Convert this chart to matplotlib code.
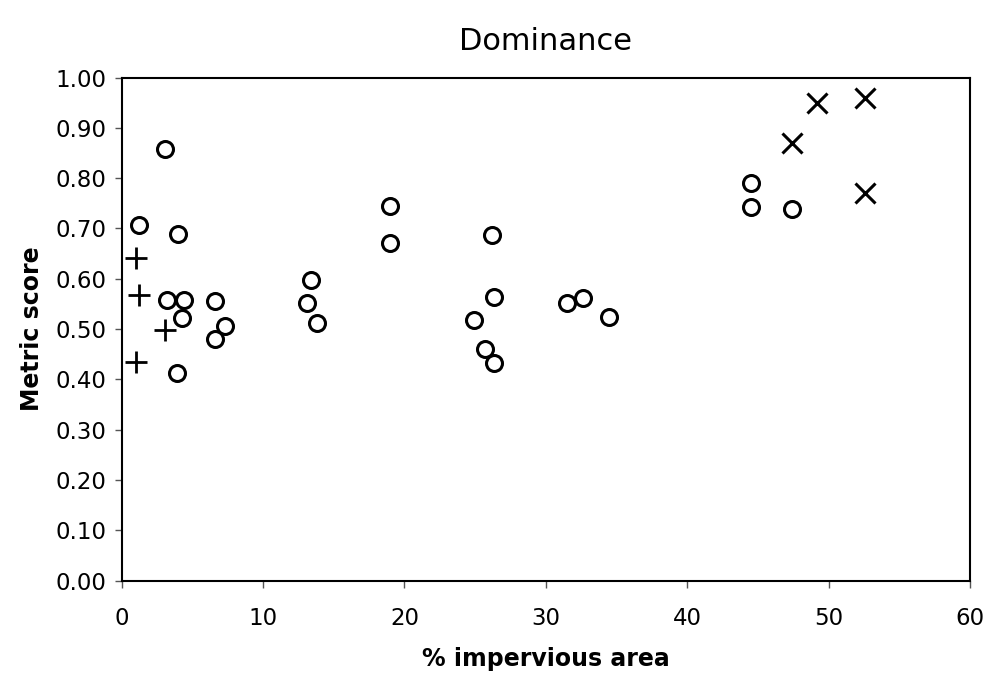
import numpy as np
import matplotlib
matplotlib.use("Agg")
import matplotlib.pyplot as plt
from matplotlib.ticker import FormatStrFormatter

circle_x = [3.1, 1.2, 4.0, 13.4, 3.2, 4.4, 6.6, 13.1, 4.3, 7.3, 13.8, 6.6, 3.9,
            19.0, 19.0, 26.2, 26.3, 24.9, 25.7, 26.3, 31.5, 32.6, 34.5,
            44.5, 44.5, 47.4]
circle_y = [0.858, 0.707, 0.689, 0.598, 0.557, 0.558, 0.555, 0.552, 0.522, 0.506, 0.512, 0.480, 0.412,
            0.745, 0.672, 0.686, 0.563, 0.517, 0.460, 0.433, 0.552, 0.562, 0.523,
            0.791, 0.742, 0.738]
plus_x = [1.0, 1.2, 3.1, 1.0]
plus_y = [0.642, 0.568, 0.499, 0.434]
cross_x = [49.2, 52.6, 47.4, 52.6]
cross_y = [0.949, 0.959, 0.869, 0.771]

xticks = [0, 10, 20, 30, 40, 50, 60]
yticks = [0.0, 0.1, 0.2, 0.3, 0.4, 0.5, 0.6, 0.7, 0.8, 0.9, 1.0]

plt.rcParams['font.family'] = ['DejaVu Sans']

fig = plt.figure(figsize=(9.94, 6.77), dpi=100)
ax = fig.add_axes([0.1224, 0.1425, 0.8535, 0.743])

ax.plot(circle_x, circle_y, linestyle='none', marker='o', markersize=11.5,
        markerfacecolor='white', markeredgecolor='black', markeredgewidth=2.2)
ax.plot(plus_x, plus_y, linestyle='none', marker='+', markersize=16,
        color='black', markeredgewidth=2)
ax.plot(cross_x, cross_y, linestyle='none', marker='x', markersize=14,
        color='black', markeredgewidth=2.2)

ax.set_xlim(0, 60)
ax.set_ylim(0, 1)
ax.set_xticks(xticks)
ax.set_yticks(yticks)
ax.yaxis.set_major_formatter(FormatStrFormatter('%.2f'))
ax.tick_params(direction='out', length=5, width=1, color='#555555',
               labelsize=16.5, pad=6)
ax.tick_params(axis='x', pad=14)
for s in ax.spines.values():
    s.set_linewidth(1.5)

ax.set_xlabel('% impervious area', fontsize=17, fontweight='bold', labelpad=12)
ax.set_ylabel('Metric score', fontsize=17, fontweight='bold', labelpad=8)
ax.set_title('Dominance', fontsize=22, pad=20)

fig.savefig('out.png', dpi=100)
